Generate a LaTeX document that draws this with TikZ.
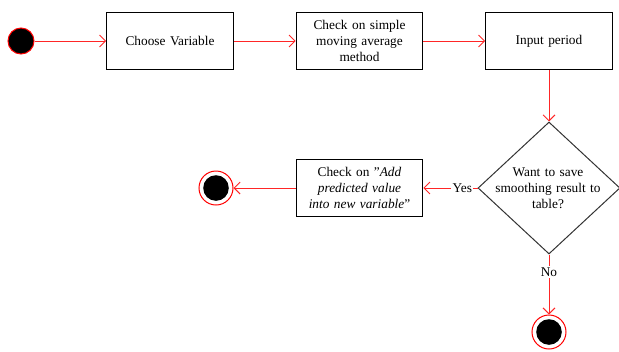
\documentclass[tikz,border=0pt]{standalone}
\usepackage{fontspec}
\setmainfont{Liberation Serif}
\usetikzlibrary{arrows.meta,shapes.geometric}

\begin{document}
\begin{tikzpicture}
                [
                x=0.75pt, y=-0.75pt,
                font=\fontsize{10}{12}\selectfont,
                step box/.style={rectangle,draw,line width=0.75pt,minimum width=95pt,minimum height=43pt,align=center,text width=88pt},
                decision/.style={diamond,draw=black!80,line width=0.75pt,minimum width=106.5pt,minimum height=99pt,inner sep=0pt},
                start/.style={circle,fill=black,draw=red,line width=0.75pt,minimum size=19.5pt,inner sep=0pt},
                stop/.style={circle,draw=red,line width=0.75pt,minimum size=25.5pt,inner sep=0pt,
                    path picture={\fill[black] (path picture bounding box.center) circle (9.6pt);}},
                flow/.style={->,draw=red!85,line width=0.7pt,>={Straight Barb[length=4.5pt,width=9pt]}},
                guard/.style={fill=white,inner sep=1pt}
                ]
            \useasboundingbox (0,0) rectangle (619,351);
            \node[start] (begin) at (21,41) {};
            \node[step box] (choose) at (170,41) {Choose Variable};
            \node[step box] (method) at (359.5,41) {Check on simple\\moving average\\method};
            \node[step box] (period) at (549,41) {Input period};
            \node[decision] (save) at (549,188) {};
            \node[text width=88pt,align=center] (question) at (548,188) {Want to save\\smoothing result to\\table?};
            \node[step box] (addvar) at (359.5,188) {Check on \symbol{34}\textit{Add}\\\textit{predicted value}\\\textit{into new variable}\symbol{34}};
            \node[stop] (endleft) at (216,188) {};
            \node[stop] (endbottom) at (549,332) {};
            \draw[flow] (begin) -- (choose);
            \draw[flow] (choose) -- (method);
            \draw[flow] (method) -- (period);
            \draw[flow] (period) -- (save);
            \draw[flow] (save.west) -- node[guard,pos=0.28] (yes) {Yes} (addvar);
            \draw[flow] (addvar) -- (endleft);
            \draw[flow] (save.south) -- node[guard,pos=0.29] (no) {No} (endbottom);
            \end{tikzpicture}
\end{document}
